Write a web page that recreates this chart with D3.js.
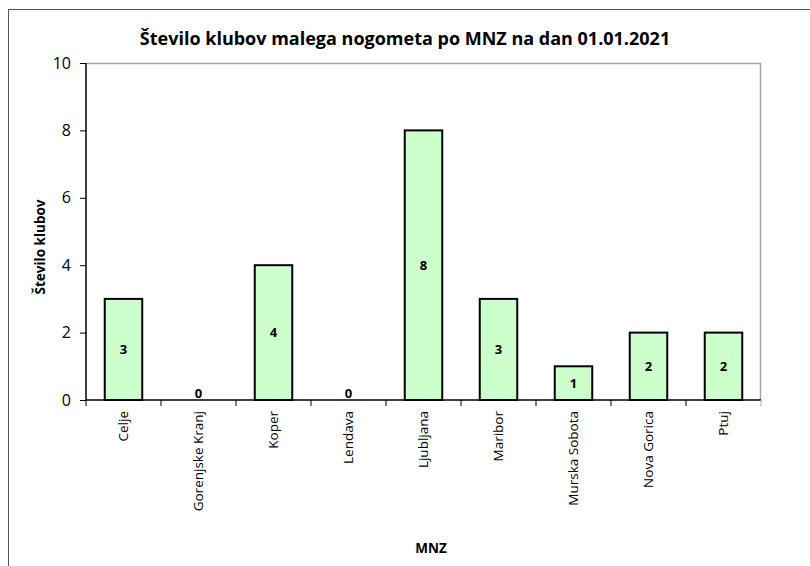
<!DOCTYPE html>
<html>
<head>
<meta charset="utf-8">
<script src="https://cdn.jsdelivr.net/npm/d3@7"></script>
<style>
  body { margin: 0; background: #fff; }
  text { font-family: "Open Sans", "DejaVu Sans", sans-serif; fill: #000; }
</style>
</head>
<body>
<div class="chart"></div>
<script>
var svgWidth = 810;
var svgHeight = 566;

var categories = ["Celje", "Gorenjske Kranj", "Koper", "Lendava", "Ljubljana", "Maribor", "Murska Sobota", "Nova Gorica", "Ptuj"];
var values = [3, 0, 4, 0, 8, 3, 1, 2, 2];
var yTicks = [0, 2, 4, 6, 8, 10];

var margin = { top: 63, right: 49, bottom: 166, left: 86 };
var width = svgWidth - margin.left - margin.right;
var height = svgHeight - margin.top - margin.bottom;

var svg = d3.select(".chart")
  .append("svg")
  .attr("width", svgWidth)
  .attr("height", svgHeight);

// outer chart border, runs off the right and bottom edge
svg.append("rect")
  .attr("x", 8.5).attr("y", 9.5)
  .attr("width", 830).attr("height", 600)
  .attr("fill", "none")
  .attr("stroke", "#555")
  .attr("stroke-width", 1);

svg.append("text")
  .attr("x", 405).attr("y", 45)
  .attr("text-anchor", "middle")
  .attr("font-weight", "bold")
  .attr("font-size", "18px")
  .text("Število klubov malega nogometa po MNZ na dan 01.01.2021");

var chartGroup = svg.append("g")
  .attr("transform", `translate(${margin.left}, ${margin.top})`);

var xScale = d3.scaleBand()
  .domain(categories)
  .range([0, width]);

var yScale = d3.scaleLinear()
  .domain([0, 10])
  .range([height, 0]);

// plot area frame (top and right in grey)
chartGroup.append("path")
  .attr("d", `M0,0.5H${width - 0.5}V${height}`)
  .attr("fill", "none")
  .attr("stroke", "#a6a6a6")
  .attr("stroke-width", 1.5);

var pairs = categories.map((c, i) => ({ cat: c, val: values[i] }));

// bars
chartGroup.selectAll(".bar")
  .data(pairs.filter(p => p.val > 0))
  .enter()
  .append("rect")
  .attr("class", "bar")
  .attr("x", p => xScale(p.cat) + xScale.bandwidth() / 4)
  .attr("width", xScale.bandwidth() / 2)
  .attr("y", p => yScale(p.val))
  .attr("height", p => height - yScale(p.val))
  .attr("fill", "#ccffcc")
  .attr("stroke", "#000")
  .attr("stroke-width", 2);

// data labels
chartGroup.selectAll(".lbl")
  .data(pairs)
  .enter()
  .append("text")
  .attr("class", "lbl")
  .attr("x", p => xScale(p.cat) + xScale.bandwidth() / 2)
  .attr("y", p => p.val > 0 ? (yScale(p.val) + height) / 2 : height - 2)
  .attr("dy", p => p.val > 0 ? "0.35em" : 0)
  .attr("text-anchor", "middle")
  .attr("font-weight", "bold")
  .attr("font-size", "13px")
  .text(p => p.val);

// y axis
var leftAxis = d3.axisLeft(yScale).tickValues(yTicks).tickSize(6).tickPadding(9);
var yAxisG = chartGroup.append("g").call(leftAxis);
yAxisG.select(".domain").attr("stroke", "#000").attr("stroke-width", 1.5).attr("d", `M0,0V${height}`);
yAxisG.selectAll(".tick line").attr("stroke", "#000");
yAxisG.selectAll(".tick text")
  .attr("font-size", "16px")
  .attr("font-family", "'Open Sans', sans-serif");

// x axis, ticks sit between categories
var bottomAxis = d3.axisBottom(xScale).tickSize(0).tickPadding(0);
var xAxisG = chartGroup.append("g")
  .attr("transform", `translate(0, ${height})`)
  .call(bottomAxis);
xAxisG.select(".domain").attr("stroke", "#000").attr("stroke-width", 1.5).attr("d", `M0,0H${width}`);
xAxisG.selectAll(".tick text")
  .attr("transform", "rotate(-90)")
  .attr("text-anchor", "end")
  .attr("x", -11)
  .attr("y", 0)
  .attr("dy", "0.35em")
  .attr("font-size", "13.5px")
  .attr("font-family", "'Open Sans', sans-serif");

chartGroup.selectAll(".sep")
  .data(d3.range(categories.length + 1))
  .enter()
  .append("line")
  .attr("x1", i => i * xScale.step())
  .attr("x2", i => i * xScale.step())
  .attr("y1", height)
  .attr("y2", height + 6)
  .attr("stroke", i => i === categories.length ? "#a6a6a6" : "#000")
  .attr("stroke-width", 1);

// axis titles
svg.append("text")
  .attr("transform", `translate(45, 247) rotate(-90)`)
  .attr("text-anchor", "middle")
  .attr("font-weight", "bold")
  .attr("font-size", "13.5px")
  .text("Število klubov");

svg.append("text")
  .attr("x", 431).attr("y", 553)
  .attr("text-anchor", "middle")
  .attr("font-weight", "bold")
  .attr("font-size", "13.5px")
  .text("MNZ");
</script>
</body>
</html>
